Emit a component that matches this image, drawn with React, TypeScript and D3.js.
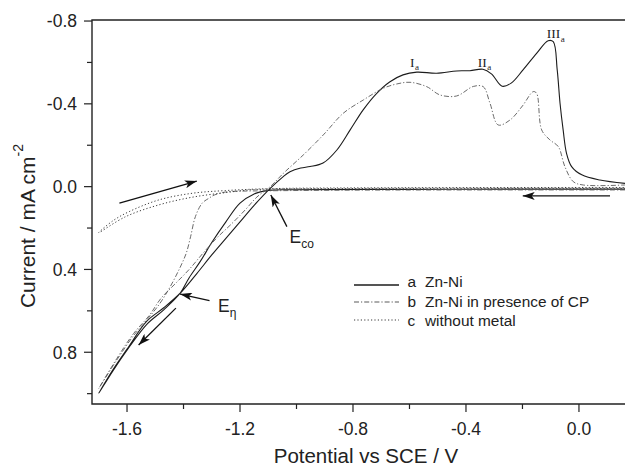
import React from "react";
import * as d3 from "d3";

// ---------- data ----------
const xDomain: [number, number] = [-1.724, 0.163];
const yDomain: [number, number] = [-0.805, 1.05];

const xMajor = [-1.6, -1.2, -0.8, -0.4, 0.0];
const xMajorLabels = ["-1.6", "-1.2", "-0.8", "-0.4", "0.0"];
const xMinor = [-1.4, -1.0, -0.6, -0.2];
const yMajor = [-0.8, -0.4, 0.0, 0.4, 0.8];
const yMajorLabels = ["-0.8", "-0.4", "0.0", "0.4", "0.8"];
const yMinor = [-0.6, -0.2, 0.2, 0.6, 1.0];

// a  Zn-Ni (solid)
const seriesA: [number, number][] = [
  [0.163, 0.012], [-0.2, 0.012], [-0.6, 0.013], [-1.0, 0.015], [-1.1, 0.018],
  [-1.15, 0.035], [-1.2, 0.08], [-1.25, 0.17], [-1.3, 0.27], [-1.34, 0.36],
  [-1.38, 0.44], [-1.412, 0.515], [-1.47, 0.595], [-1.53, 0.665], [-1.6, 0.79],
  [-1.65, 0.89], [-1.7, 0.998],
  [-1.65, 0.885], [-1.6, 0.785], [-1.53, 0.65], [-1.47, 0.585], [-1.412, 0.515],
  [-1.353, 0.42], [-1.3, 0.33], [-1.25, 0.25], [-1.2, 0.17], [-1.15, 0.09],
  [-1.093, 0.008], [-1.05, -0.045], [-1.023, -0.072], [-0.985, -0.09],
  [-0.952, -0.097], [-0.906, -0.114], [-0.857, -0.177], [-0.81, -0.274],
  [-0.764, -0.371], [-0.716, -0.451], [-0.669, -0.507], [-0.623, -0.54],
  [-0.574, -0.553], [-0.504, -0.548], [-0.433, -0.559], [-0.386, -0.56],
  [-0.34, -0.567], [-0.31, -0.545], [-0.272, -0.485], [-0.24, -0.5],
  [-0.198, -0.564], [-0.15, -0.644], [-0.109, -0.705], [-0.091, -0.7],
  [-0.077, -0.564], [-0.067, -0.403], [-0.056, -0.274], [-0.044, -0.161],
  [-0.026, -0.097], [0.01, -0.057], [0.074, -0.032], [0.163, -0.016],
];

// b  Zn-Ni in presence of CP (dash-dot)
const seriesB: [number, number][] = [
  [0.163, 0.016], [-0.4, 0.016], [-0.8, 0.017], [-1.1, 0.02], [-1.2, 0.022],
  [-1.252, 0.026], [-1.29, 0.04], [-1.31, 0.056], [-1.334, 0.08], [-1.358, 0.145],
  [-1.375, 0.242], [-1.39, 0.32], [-1.412, 0.39], [-1.447, 0.483], [-1.483, 0.563],
  [-1.53, 0.644], [-1.577, 0.72], [-1.636, 0.837], [-1.7, 0.975],
  [-1.636, 0.83], [-1.577, 0.71], [-1.52, 0.62], [-1.48, 0.54], [-1.43, 0.47],
  [-1.38, 0.4], [-1.33, 0.32], [-1.28, 0.245], [-1.23, 0.18], [-1.18, 0.11],
  [-1.14, 0.05], [-1.093, 0.0], [-1.046, -0.065], [-0.976, -0.153], [-0.905, -0.25],
  [-0.834, -0.355], [-0.763, -0.419], [-0.693, -0.475], [-0.645, -0.496],
  [-0.598, -0.504], [-0.539, -0.483], [-0.492, -0.443], [-0.433, -0.438],
  [-0.374, -0.484], [-0.339, -0.483], [-0.315, -0.403], [-0.286, -0.298],
  [-0.244, -0.322], [-0.2, -0.39], [-0.162, -0.459], [-0.15, -0.451],
  [-0.132, -0.274], [-0.103, -0.226], [-0.073, -0.193], [-0.05, -0.097],
  [-0.02, -0.024], [0.015, -0.008], [0.163, -0.008],
];

// c  without metal (dotted)
const seriesC: [number, number][] = [
  [0.163, 0.008], [-0.4, 0.008], [-0.8, 0.009], [-1.1, 0.012], [-1.169, 0.016],
  [-1.252, 0.029], [-1.369, 0.051], [-1.487, 0.088], [-1.605, 0.145], [-1.7, 0.222],
  [-1.65, 0.165], [-1.593, 0.121], [-1.487, 0.064], [-1.369, 0.032], [-1.252, 0.019],
  [-1.1, 0.01], [-0.8, 0.006], [0.163, 0.004],
];

const legendKeys = ["a", "b", "c"];
const legendLabels = ["Zn-Ni", "Zn-Ni in presence of CP", "without metal"];

// arrows: [tailX, tailY, tipX, tipY] in data units
const arrows: [number, number, number, number][] = [
  [-1.627, 0.08, -1.353, -0.027],
  [0.11, 0.045, -0.199, 0.045],
  [-1.034, 0.193, -1.091, 0.04],
  [-1.308, 0.551, -1.412, 0.519],
  [-1.427, 0.587, -1.559, 0.765],
];

// peak labels: [x, y, main, sub]
const peakLabels: [number, number, string, string][] = [
  [-0.598, -0.578, "I", "a"],
  [-0.358, -0.578, "II", "a"],
  [-0.114, -0.718, "III", "a"],
];

// potential labels: [x, y, main, sub]
const potLabels: [number, number, string, string][] = [
  [-1.025, 0.273, "E", "co"],
  [-1.278, 0.604, "E", "\u03b7"],
];

// ---------- layout ----------
const W = 625, H = 467;
const L = 92, R = 625, T = 20, B = 404;
const FONT = "'Liberation Sans', Arial, Helvetica, sans-serif";
const SERIF = "'Liberation Serif', 'Times New Roman', serif";

export default function App() {
  const x = d3.scaleLinear().domain(xDomain).range([L, R]);
  const y = d3.scaleLinear().domain(yDomain).range([T, B]);
  const line = d3
    .line<[number, number]>()
    .x((d) => x(d[0]))
    .y((d) => y(d[1]))
    .curve(d3.curveCatmullRom.alpha(0.5));

  const styles = [
    { stroke: "#1c1c1c", width: 1.1, dash: "none" },
    { stroke: "#5a5a5a", width: 0.9, dash: "5,2,1.2,2" },
    { stroke: "#3a3a3a", width: 1.0, dash: "1.2,2.2" },
  ];
  const series = [seriesA, seriesB, seriesC];

  return (
    <svg
      width={W}
      height={H}
      style={{ position: "absolute", left: 0, top: 0, background: "#fff" }}
      fontFamily={FONT}
    >
      <defs>
        <marker
          id="ah"
          viewBox="0 0 12 8"
          refX="12"
          refY="4"
          markerWidth="12"
          markerHeight="8"
          markerUnits="userSpaceOnUse"
          orient="auto"
        >
          <path d="M0,0 L12,4 L0,8 L3,4 Z" fill="#111" />
        </marker>
      </defs>
      <rect x={0} y={0} width={W} height={H} fill="#fff" />

      {/* curves */}
      {series.map((s, i) => (
        <path
          key={i}
          d={line(s) || ""}
          fill="none"
          stroke={styles[i].stroke}
          strokeWidth={styles[i].width}
          strokeDasharray={styles[i].dash}
        />
      ))}

      {/* frame */}
      <path
        d={`M${R},${T} L${L},${T} L${L},${B} L${R},${B}`}
        fill="none"
        stroke="#222"
        strokeWidth={1.4}
      />

      {/* x ticks */}
      {xMajor.map((v, i) => (
        <g key={"xm" + i}>
          <line x1={x(v)} x2={x(v)} y1={B} y2={B + 8} stroke="#222" strokeWidth={1.2} />
          <text x={x(v)} y={435} textAnchor="middle" fontSize={17.5} fill="#222">
            {xMajorLabels[i]}
          </text>
        </g>
      ))}
      {xMinor.map((v, i) => (
        <line key={"xn" + i} x1={x(v)} x2={x(v)} y1={B} y2={B + 5} stroke="#222" strokeWidth={1.2} />
      ))}
      {/* y ticks */}
      {yMajor.map((v, i) => (
        <g key={"ym" + i}>
          <line x1={L - 8} x2={L} y1={y(v)} y2={y(v)} stroke="#222" strokeWidth={1.2} />
          <text x={L - 15} y={y(v)} dy="0.36em" textAnchor="end" fontSize={17.5} fill="#222">
            {yMajorLabels[i]}
          </text>
        </g>
      ))}
      {yMinor.map((v, i) => (
        <line key={"yn" + i} x1={L - 5} x2={L} y1={y(v)} y2={y(v)} stroke="#222" strokeWidth={1.2} />
      ))}

      {/* axis titles */}
      <text x={366} y={463} textAnchor="middle" fontSize={20.5} fill="#222">
        Potential vs SCE / V
      </text>
      <text transform="translate(35,226) rotate(-90)" textAnchor="middle" fontSize={21} fill="#222">
        Current / mA cm
        <tspan fontSize={14} dy={-12.5}>-2</tspan>
      </text>

      {/* arrows */}
      {arrows.map((a, i) => (
        <line
          key={"ar" + i}
          x1={x(a[0])}
          y1={y(a[1])}
          x2={x(a[2])}
          y2={y(a[3])}
          stroke="#111"
          strokeWidth={1.3}
          markerEnd="url(#ah)"
        />
      ))}

      {/* peak labels */}
      {peakLabels.map((p, i) => (
        <text key={"pk" + i} x={x(p[0])} y={y(p[1])} fontFamily={SERIF} fontSize={13.5} fill="#222">
          {p[2]}
          <tspan fontSize={9} dy={3.5} dx={0.5}>{p[3]}</tspan>
        </text>
      ))}

      {/* potential labels */}
      {potLabels.map((p, i) => (
        <text key={"pl" + i} x={x(p[0])} y={y(p[1])} fontSize={17.5} fill="#222">
          {p[2]}
          <tspan fontSize={12} dy={5}>{p[3]}</tspan>
        </text>
      ))}

      {/* legend */}
      {legendKeys.map((k, i) => {
        const ly = [285, 302, 320][i];
        const ty = [287, 306.5, 326][i];
        return (
          <g key={"lg" + i}>
            <line
              x1={354}
              x2={399}
              y1={ly}
              y2={ly}
              stroke={styles[i].stroke}
              strokeWidth={styles[i].width + 0.2}
              strokeDasharray={styles[i].dash}
            />
            <text x={407.5} y={ty} fontSize={15.4} fill="#222">{k}</text>
            <text x={425} y={ty} fontSize={15.4} fill="#222">{legendLabels[i]}</text>
          </g>
        );
      })}
    </svg>
  );
}
